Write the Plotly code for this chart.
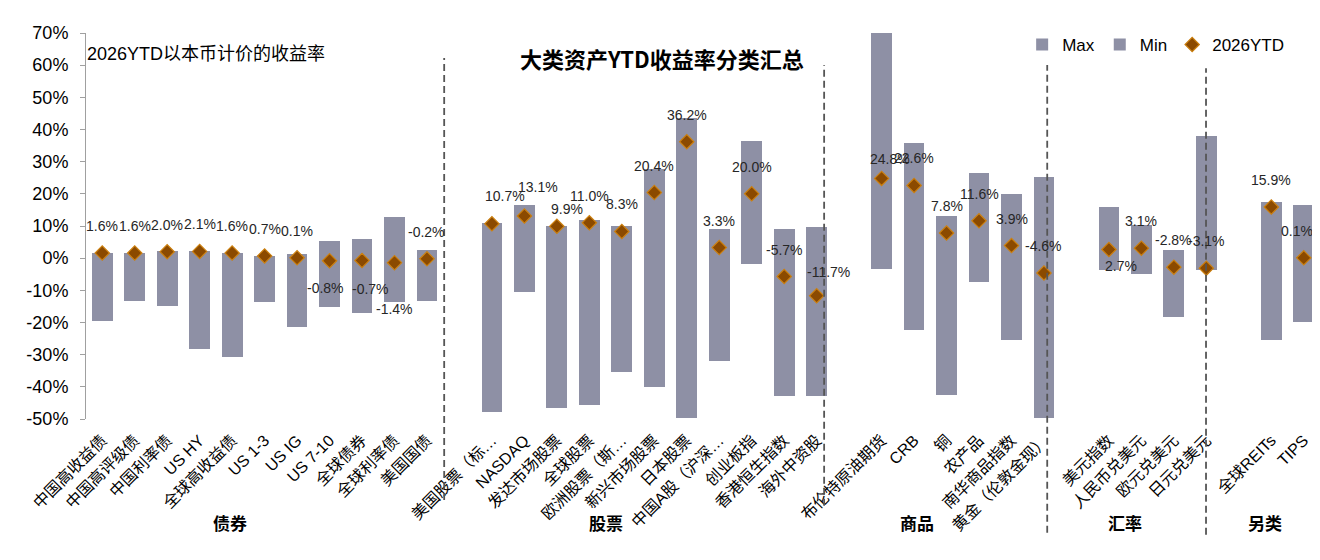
import numpy as np
from plotly import graph_objects as go

# 分组
groups = ["债券", "股票", "商品", "汇率", "另类"]

bond_names = ["中国高收益债", "中国高评级债", "中国利率债", "US HY", "全球高收益债", "US 1-3", "US IG",
              "US 7-10", "全球债券", "全球利率债", "美国国债"]
bond_max = [1.7, 1.7, 2.1, 2.3, 1.7, 0.8, 1.3, 5.3, 6.1, 12.8, 2.5]
bond_min = [-19.4, -13.2, -14.8, -28.1, -30.6, -13.5, -21.3, -15.1, -16.9, -13.6, -13.2]
bond_ytd = [1.6, 1.6, 2.0, 2.1, 1.6, 0.7, 0.1, -0.8, -0.7, -1.4, -0.2]

stock_names = ["美国股票（标…", "NASDAQ", "发达市场股票", "全球股票", "欧洲股票（斯…", "新兴市场股票", "日本股票",
               "中国A股（沪深…", "创业板指", "香港恒生指数", "海外中资股"]
stock_max = [10.9, 16.6, 10.1, 12.0, 10.1, 27.8, 43.6, 9.2, 36.5, 9.2, 9.8]
stock_min = [-47.8, -10.5, -46.5, -45.6, -35.4, -40.0, -49.7, -31.9, -1.8, -42.8, -42.8]
stock_ytd = [10.7, 13.1, 9.9, 11.0, 8.3, 20.4, 36.2, 3.3, 20.0, -5.7, -11.7]

cmdty_names = ["布伦特原油期货", "CRB", "铜", "农产品", "南华商品指数", "黄金（伦敦金现）"]
cmdty_max = [70.0, 35.9, 13.1, 26.6, 20.1, 25.2]
cmdty_min = [-3.3, -22.2, -42.5, -7.3, -25.3, -49.6]
cmdty_ytd = [24.8, 22.6, 7.8, 11.6, 3.9, -4.6]

fx_names = ["美元指数", "人民币兑美元", "欧元兑美元", "日元兑美元"]
fx_max = [15.9, 10.4, 2.5, 37.9]
fx_min = [-3.6, -4.8, -18.2, -3.6]
fx_ytd = [2.7, 3.1, -2.8, -3.1]

alt_names = ["全球REITs", "TIPS"]
alt_max = [17.6, 16.5]
alt_min = [-25.3, -19.7]
alt_ytd = [15.9, 0.1]

y_ticks = list(range(-50, 71, 10))
y_tick_text = [f"{v}%" for v in y_ticks]

# 组装：每组之间空一个类别位
blocks = [(bond_names, bond_max, bond_min, bond_ytd),
          (stock_names, stock_max, stock_min, stock_ytd),
          (cmdty_names, cmdty_max, cmdty_min, cmdty_ytd),
          (fx_names, fx_max, fx_min, fx_ytd),
          (alt_names, alt_max, alt_min, alt_ytd)]
xs, names, v_max, v_min, v_ytd = [], [], [], [], []
pos = 0
for b_names, b_max, b_min, b_ytd in blocks:
    for i, n in enumerate(b_names):
        xs.append(pos)
        names.append(n)
        v_max.append(b_max[i])
        v_min.append(b_min[i])
        v_ytd.append(b_ytd[i])
        pos += 1
    pos += 1
n_slots = pos - 1

font_main = "Liberation Sans, Arial, Noto Sans CJK SC"
bar_color = "#8E90A5"

fig = go.Figure()
fig.add_trace(go.Bar(x=xs, y=v_max, name="Max", marker_color=bar_color, marker_line_width=0, width=0.64))
fig.add_trace(go.Bar(x=xs, y=v_min, name="Min", marker_color=bar_color, marker_line_width=0, width=0.64))
fig.add_trace(go.Scatter(x=xs, y=v_ytd, name="2026YTD", mode="markers",
                         marker=dict(symbol="diamond", size=11, color="#8B4A00",
                                     line=dict(color="#CC8010", width=1.2))))

# 数据标签位置微调（默认在菱形上方）
label_shift = {
    "US 7-10": (-4, -27), "全球债券": (8, -29), "全球利率债": (0, -46),
    "美国股票（标…": (13, 28), "NASDAQ": (14, 29), "发达市场股票": (10, 17), "海外中资股": (12, 24),
    "布伦特原油期货": (8, 19), "美元指数": (12, -17), "TIPS": (-7, 27),
}
for x, n, v in zip(xs, names, v_ytd):
    dx, dy = label_shift.get(n, (0, 27))
    fig.add_annotation(x=x, y=v, text=f"{v:.1f}%", showarrow=False, xshift=dx, yshift=dy,
                       font=dict(size=14, color="#262626", family=font_main))

# 分组标题
group_x = [3.94, 15.5, 25.1, 31.5, 35.8]
for g, gx in zip(groups, group_x):
    fig.add_annotation(x=gx, y=-0.306, yref="paper", text=f"<b>{g}</b>", showarrow=False,
                       font=dict(size=17, color="black", family="Noto Sans CJK SC"))

# 分隔虚线
for lx, y0, y1 in [(10.53, -0.21, 0.935), (22.23, -0.225, 0.917), (29.1, -0.295, 0.917), (33.99, -0.30, 0.909)]:
    fig.add_shape(type="line", x0=lx, x1=lx, y0=y0, y1=y1, xref="x", yref="paper",
                  line=dict(color="#555555", width=1.8, dash="7px,4px"))

fig.add_annotation(x=0.467, y=0.982, xref="paper", yref="paper", text="<b>大类资产YTD收益率分类汇总</b>",
                   showarrow=False, font=dict(size=22, color="black", family="Noto Sans CJK SC"))
fig.add_annotation(x=-0.001, y=0.976, xref="paper", yref="paper", xanchor="left", text="2026YTD以本币计价的收益率",
                   showarrow=False, font=dict(size=18, color="black", family=font_main))

x_range = [-0.5, n_slots - 0.5]
fig.update_layout(
    width=1320, height=560,
    margin=dict(l=78, r=8, t=25, b=149),
    plot_bgcolor="white", paper_bgcolor="white",
    barmode="overlay", bargap=0,
    font=dict(family=font_main, color="black"),
    showlegend=True,
    legend=dict(orientation="h", x=0.975, xanchor="right", y=0.969, yanchor="middle",
                font=dict(size=17), bgcolor="rgba(0,0,0,0)", itemwidth=30, tracegroupgap=0),
    xaxis=dict(range=x_range, tickmode="array", tickvals=xs, ticktext=names, tickangle=-45,
               tickfont=dict(size=16), showline=False, showgrid=False, zeroline=False, ticks="",
               ticklabelstandoff=8),
    xaxis2=dict(range=x_range, overlaying="x", anchor="free", position=50 / 120, side="bottom",
                tickmode="array", tickvals=list(np.arange(-0.5, n_slots, 1.0)), showticklabels=False,
                ticks="outside", ticklen=7, tickcolor="#888888", showline=True, linecolor="#888888",
                linewidth=1, showgrid=False, zeroline=False),
    yaxis=dict(range=[-50, 70], tickmode="array", tickvals=y_ticks, ticktext=y_tick_text,
               tickfont=dict(size=18), showline=True, linecolor="#A0A0A0", ticks="outside", ticklen=5,
               tickcolor="#A0A0A0", showgrid=False, zeroline=False, ticklabelstandoff=8),
)
fig.write_html("out.html")
